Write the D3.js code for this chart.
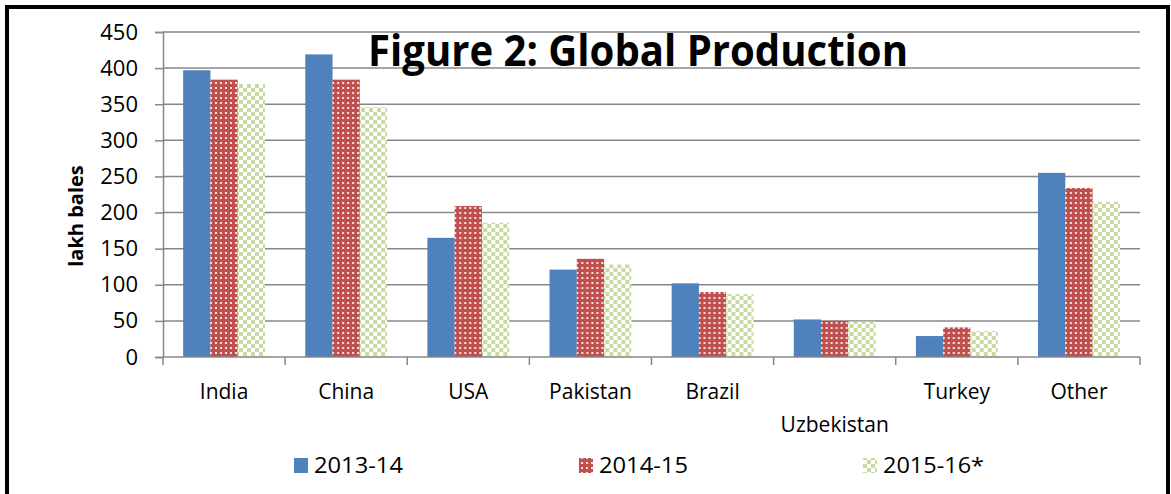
<!DOCTYPE html>
<html>
<head>
<meta charset="utf-8">
<script src="https://cdn.jsdelivr.net/npm/d3@7"></script>
<style>
  body { margin: 0; background: #fff; }
  svg { display: block; }
</style>
</head>
<body>
<svg id="chart" width="1171" height="494"></svg>
<script>
// data (lakh bales)
var countries = ["India", "China", "USA", "Pakistan", "Brazil", "Uzbekistan", "Turkey", "Other"];
var seasons = ["2013-14", "2014-15", "2015-16*"];
var prod2013 = [397, 419, 165, 121, 102, 52, 29, 255];
var prod2014 = [384, 384, 209, 136, 90, 50, 41, 234];
var prod2015 = [378, 346, 186, 128, 87, 49, 36, 215];
var yTicks = [0, 50, 100, 150, 200, 250, 300, 350, 400, 450];

function chart() {
  var seriesVals = [prod2013, prod2014, prod2015];
  var fills = ["#4f81bd", "url(#redDots)", "url(#greenCheck)"];

  var svg = d3.select("#chart");
  var font = "'Open Sans', 'Noto Sans', sans-serif";

  // patterns for the 2 hatched series
  var defs = svg.append("defs");
  var red = defs.append("pattern").attr("id", "redDots")
    .attr("patternUnits", "userSpaceOnUse").attr("width", 5).attr("height", 5);
  red.append("rect").attr("width", 5).attr("height", 5).attr("fill", "#c0504d");
  red.append("rect").attr("x", 2).attr("y", 2).attr("width", 2).attr("height", 2).attr("fill", "#f6e2e1");

  var green = defs.append("pattern").attr("id", "greenCheck")
    .attr("patternUnits", "userSpaceOnUse").attr("width", 8).attr("height", 8);
  green.append("rect").attr("width", 8).attr("height", 8).attr("fill", "#ffffff");
  green.append("rect").attr("width", 4).attr("height", 4).attr("fill", "#c7dba0");
  green.append("rect").attr("x", 4).attr("y", 4).attr("width", 4).attr("height", 4).attr("fill", "#c7dba0");

  var plotL = 163, plotR = 1140, plotT = 32, plotB = 357;

  var y = d3.scaleLinear().domain([0, 450]).range([plotB, plotT]);
  var x0 = d3.scaleBand().domain(countries).range([plotL, plotR]).padding(0);
  var bw = x0.bandwidth();
  var x1 = d3.scaleBand().domain(seasons).range([bw * 0.165, bw * 0.835]).padding(0);

  // gridlines
  svg.append("g").selectAll("line")
    .data(yTicks.filter(function(d) { return d > 0; }))
    .enter().append("line")
    .attr("x1", plotL).attr("x2", plotR)
    .attr("y1", function(d) { return y(d); })
    .attr("y2", function(d) { return y(d); })
    .attr("stroke", "#878787").attr("stroke-width", 1.5);

  // y axis
  var yAxis = svg.append("g")
    .attr("transform", "translate(" + plotL + ",0)")
    .call(d3.axisLeft(y).tickValues(yTicks).tickSize(8).tickPadding(17));
  yAxis.select(".domain").attr("stroke", "#878787").attr("stroke-width", 1.5);
  yAxis.selectAll(".tick line").attr("stroke", "#878787").attr("stroke-width", 1.5);
  yAxis.selectAll(".tick text")
    .attr("font-family", font).attr("font-size", 22).attr("fill", "#000");

  // bars
  var groups = svg.append("g").selectAll("g")
    .data(countries)
    .enter().append("g")
    .attr("transform", function(d) { return "translate(" + x0(d) + ",0)"; });

  groups.selectAll("rect")
    .data(function(c, i) {
      return seasons.map(function(s, j) { return { s: s, j: j, v: seriesVals[j][i] }; });
    })
    .enter().append("rect")
    .attr("x", function(d) { return x1(d.s); })
    .attr("width", x1.bandwidth())
    .attr("y", function(d) { return y(d.v); })
    .attr("height", function(d) { return plotB - y(d.v); })
    .attr("fill", function(d) { return fills[d.j]; });

  // x axis
  var xAxis = svg.append("g").attr("transform", "translate(0," + plotB + ")");
  xAxis.append("line").attr("x1", plotL).attr("x2", plotR)
    .attr("stroke", "#878787").attr("stroke-width", 1.5);
  xAxis.selectAll(".tk")
    .data(countries.concat(["end"]))
    .enter().append("line")
    .attr("x1", function(d, i) { return plotL + i * bw; })
    .attr("x2", function(d, i) { return plotL + i * bw; })
    .attr("y1", 0).attr("y2", 8)
    .attr("stroke", "#878787").attr("stroke-width", 1.5);

  svg.append("g").selectAll("text")
    .data(countries)
    .enter().append("text")
    .attr("x", function(d) { return x0(d) + bw / 2; })
    .attr("y", function(d) { return d === "Uzbekistan" ? 432 : 399; })
    .attr("text-anchor", "middle")
    .attr("font-family", font).attr("font-size", 21)
    .text(function(d) { return d; });

  // y title
  svg.append("text")
    .attr("transform", "translate(83,216) rotate(-90)")
    .attr("text-anchor", "middle")
    .attr("font-family", font).attr("font-weight", "bold").attr("font-size", 20)
    .text("lakh bales");

  // title, squeezed like the narrow original face
  svg.append("text")
    .attr("x", 368).attr("y", 66)
    .attr("font-family", font).attr("font-weight", "bold").attr("font-size", 43)
    .attr("textLength", 540).attr("lengthAdjust", "spacingAndGlyphs")
    .text("Figure 2: Global Production");

  // legend
  var legX = [294, 579, 863];
  var legW = [89, 89, 101];
  var leg = svg.append("g").selectAll("g")
    .data(seasons)
    .enter().append("g")
    .attr("transform", function(d, i) { return "translate(" + legX[i] + ",0)"; });
  leg.append("rect")
    .attr("y", 458).attr("width", 14).attr("height", 15)
    .attr("fill", function(d, i) { return fills[i]; });
  leg.append("text")
    .attr("x", 20).attr("y", 473)
    .attr("font-family", font).attr("font-size", 22)
    .attr("textLength", function(d, i) { return legW[i]; })
    .attr("lengthAdjust", "spacingAndGlyphs")
    .text(function(d) { return d; });

  // outer border
  svg.append("rect")
    .attr("x", 7).attr("y", 7).attr("width", 1161).attr("height", 520)
    .attr("fill", "none").attr("stroke", "#000").attr("stroke-width", 4);
}

chart();
</script>
</body>
</html>
